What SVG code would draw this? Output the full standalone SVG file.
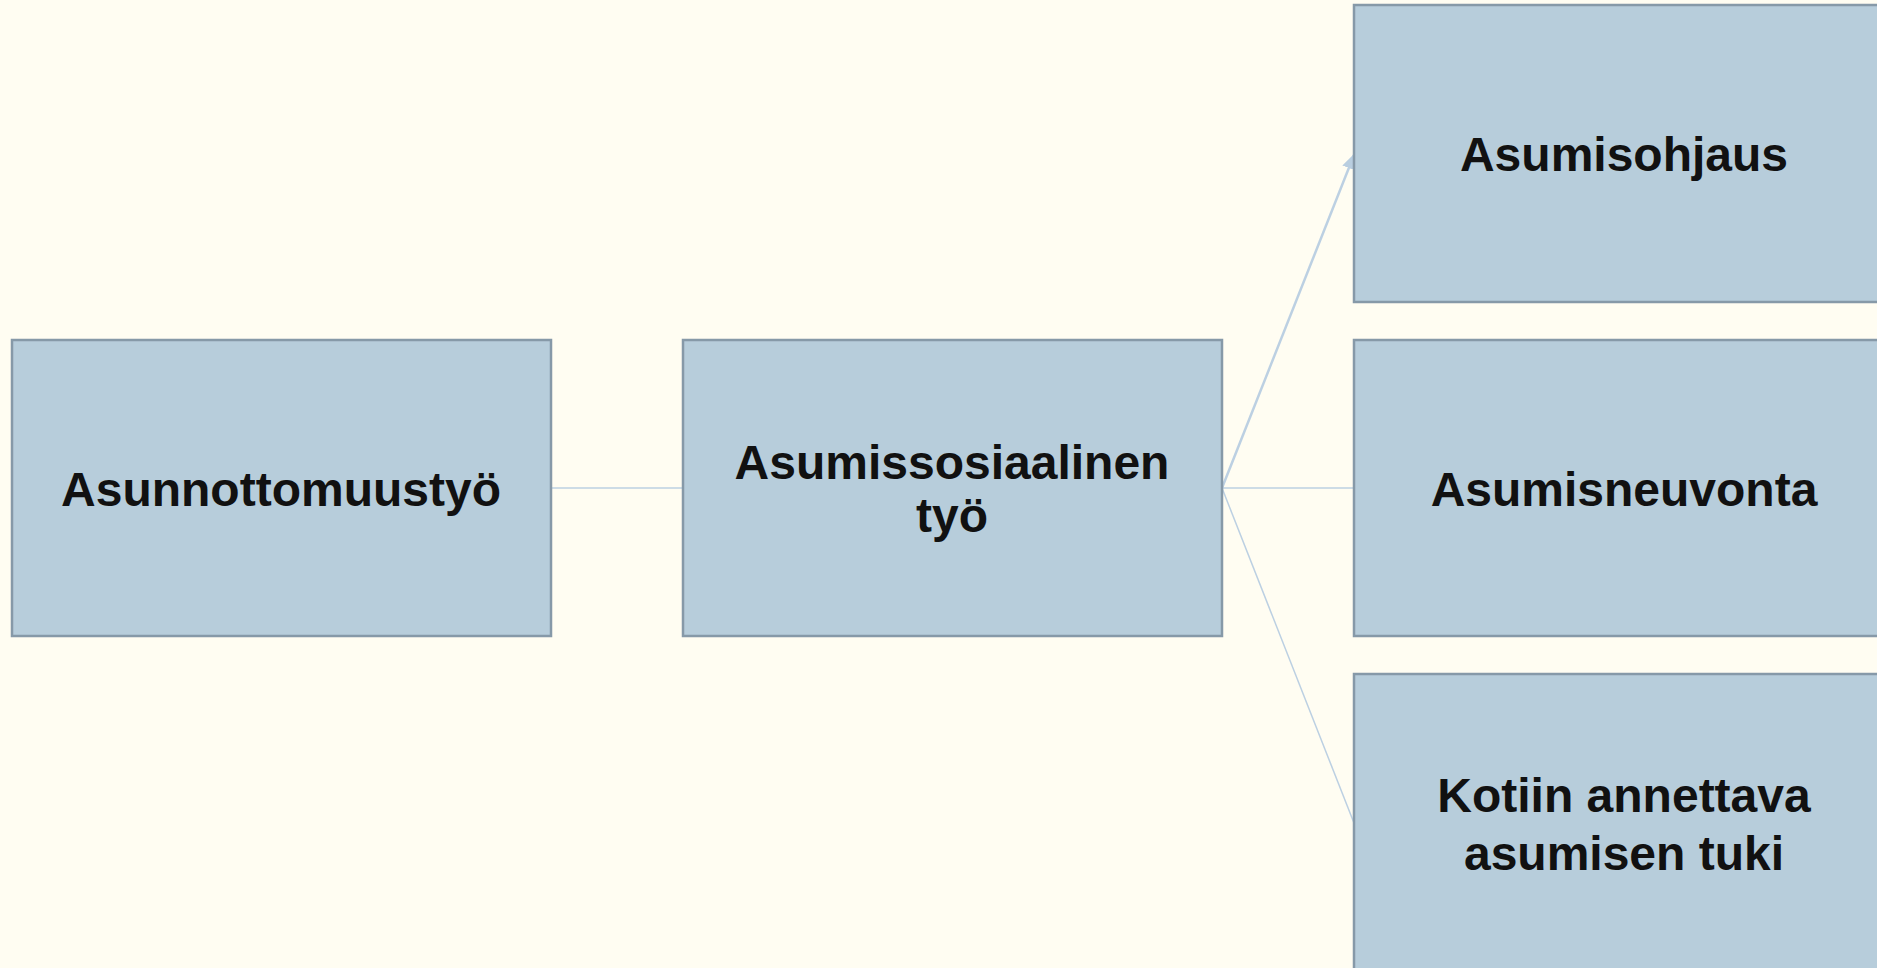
<svg xmlns="http://www.w3.org/2000/svg" width="1877" height="968" viewBox="0 0 1877 968">
<style>
.box{fill:#b7cddb;stroke:#8699a8;stroke-width:2.5}
.lbl{font-family:"Liberation Sans",Arial,sans-serif;font-weight:bold;font-size:48px;fill:#111111;text-anchor:middle}
.con{fill:none;stroke:#bcd0e2;stroke-width:1.5}
</style>
<defs>
<marker id="arr2" markerWidth="16" markerHeight="16" refX="14" refY="8" orient="auto" markerUnits="userSpaceOnUse" viewBox="0 0 16 16">
<path d="M0,1 L16,8 L0,15 z" fill="#b9cee0"/>
</marker>
</defs>
<rect x="0" y="0" width="1877" height="968" fill="#fffdf2"/>
<g id="connectors">
<line class="con" x1="551" y1="488" x2="683" y2="488"/>
<line class="con" x1="1222" y1="488" x2="1354" y2="488"/>
<line class="con" x1="1222" y1="488" x2="1354" y2="823"/>
<line class="con" x1="1222" y1="488" x2="1354" y2="155" style="stroke-width:2.5" marker-end="url(#arr2)"/>
</g>
<g id="node-asunnottomuustyo">
<rect class="box" x="12" y="340" width="539" height="296"/>
<text class="lbl" x="281" y="506">Asunnottomuustyö</text>
</g>
<g id="node-asumissosiaalinen">
<rect class="box" x="683" y="340" width="539" height="296"/>
<text class="lbl" x="952" y="479">Asumissosiaalinen</text>
<text class="lbl" x="952" y="532">työ</text>
</g>
<g id="node-asumisohjaus">
<rect class="box" x="1354" y="5" width="540" height="297"/>
<text class="lbl" x="1624" y="171">Asumisohjaus</text>
</g>
<g id="node-asumisneuvonta">
<rect class="box" x="1354" y="340" width="540" height="296"/>
<text class="lbl" x="1624" y="506">Asumisneuvonta</text>
</g>
<g id="node-kotiin">
<rect class="box" x="1354" y="674" width="540" height="300"/>
<text class="lbl" x="1624" y="812">Kotiin annettava</text>
<text class="lbl" x="1624" y="870">asumisen tuki</text>
</g>
</svg>
